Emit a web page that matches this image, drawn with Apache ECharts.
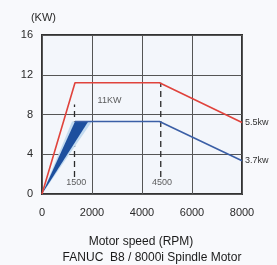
<!DOCTYPE html>
<html>
<head>
<meta charset="utf-8">
<script src="https://cdn.jsdelivr.net/npm/echarts@6/dist/echarts.min.js"></script>
<style>
  html, body { margin: 0; padding: 0; background: #f8f9fc; }
  #chart { width: 277px; height: 265px; }
</style>
</head>
<body>
<div id="chart"></div>
<script>
// 数据
var xTicks = [0, 2000, 4000, 6000, 8000];
var yTicks = [0, 4, 8, 12, 16];
var redLine = [[0, 0], [1320, 11.2], [4700, 11.2], [8000, 7.2]];
var blueLine = [[1320, 7.3], [4700, 7.3], [8000, 3.35]];
var blueHalo = [[0, 0], [1200, 7.3], [2000, 7.3]];
var blueDark = [[0, 0], [1320, 7.3], [1850, 7.3]];
var dash1500 = [[1300, 1.7], [1300, 9.0]];
var dash4500 = [[4750, 1.7], [4750, 11.2]];
var redEndText = '5.5kw';
var blueEndText = '3.7kw';
var labels = [
    { value: [2700, 9.4], text: '11KW' },
    { value: [1370, 1.2], text: '1500' },
    { value: [4800, 1.2], text: '4500' }
];

var font = '"Liberation Sans", Arial, sans-serif';

function polygonSeries(points, color) {
    return {
        type: 'custom',
        silent: true,
        z: 2,
        data: [0],
        renderItem: function (params, api) {
            var pts = points.map(function (p) { return api.coord(p); });
            return { type: 'polygon', shape: { points: pts }, style: { fill: color } };
        }
    };
}

function dashSeries(points) {
    return {
        type: 'line',
        data: points,
        symbol: 'none',
        silent: true,
        z: 1,
        lineStyle: { color: '#2a2a2a', width: 1.3, type: [6, 4] }
    };
}

function endLabel(text) {
    return {
        show: true, formatter: text, distance: 3,
        fontFamily: font, fontSize: 9, color: '#333'
    };
}

var chart = echarts.init(document.getElementById('chart'));
var option = {
    animation: false,
    backgroundColor: '#f8f9fc',
    grid: {
        left: 42, right: 35, top: 35, bottom: 71,
        show: true, backgroundColor: '#f3f6fb', borderColor: '#333', borderWidth: 2
    },
    title: [
        { text: 'Motor speed (RPM)', left: 136, top: 231, textAlign: 'center',
          textStyle: { fontFamily: font, fontSize: 12, fontWeight: 'normal', color: '#1a1a1a' } },
        { text: 'FANUC  B8 / 8000i Spindle Motor', left: 147, top: 247, textAlign: 'center',
          textStyle: { fontFamily: font, fontSize: 12, fontWeight: 'normal', color: '#1a1a1a' } }
    ],
    xAxis: {
        type: 'value', min: xTicks[0], max: xTicks[xTicks.length - 1], interval: 2000,
        axisLine: { show: false }, axisTick: { show: false },
        axisLabel: { fontFamily: font, fontSize: 11, color: '#2a2a2a', margin: 13,
            formatter: function (v) { return String(v); } },
        splitLine: { lineStyle: { color: '#555', width: 1 } }
    },
    yAxis: {
        type: 'value', min: yTicks[0], max: yTicks[yTicks.length - 1], interval: 4,
        name: '(KW)', nameGap: 12,
        nameTextStyle: { fontFamily: font, fontSize: 11, color: '#2a2a2a', align: 'right', padding: [0, -14, 0, 0] },
        axisLine: { show: false }, axisTick: { show: false },
        axisLabel: { fontFamily: font, fontSize: 11, color: '#2a2a2a', margin: 9 },
        splitLine: { lineStyle: { color: '#555', width: 1 } }
    },
    series: [
        polygonSeries(blueHalo, '#c3dbf0'),
        polygonSeries(blueDark, '#1d4f9e'),
        {
            type: 'line', data: redLine, symbol: 'none', z: 4,
            lineStyle: { color: '#e0433c', width: 1.6 },
            endLabel: endLabel(redEndText)
        },
        {
            type: 'line', data: blueLine, symbol: 'none', z: 4,
            lineStyle: { color: '#3b5fa6', width: 1.6 },
            endLabel: endLabel(blueEndText)
        },
        dashSeries(dash1500),
        dashSeries(dash4500),
        {
            type: 'scatter', symbolSize: 0, silent: true, z: 5,
            data: labels.map(function (l) { return { value: l.value, name: l.text }; }),
            label: {
                show: true, position: 'inside',
                formatter: function (p) { return p.name; },
                fontFamily: font, fontSize: 9, color: '#333'
            }
        }
    ]
};
chart.setOption(option);
</script>
</body>
</html>
